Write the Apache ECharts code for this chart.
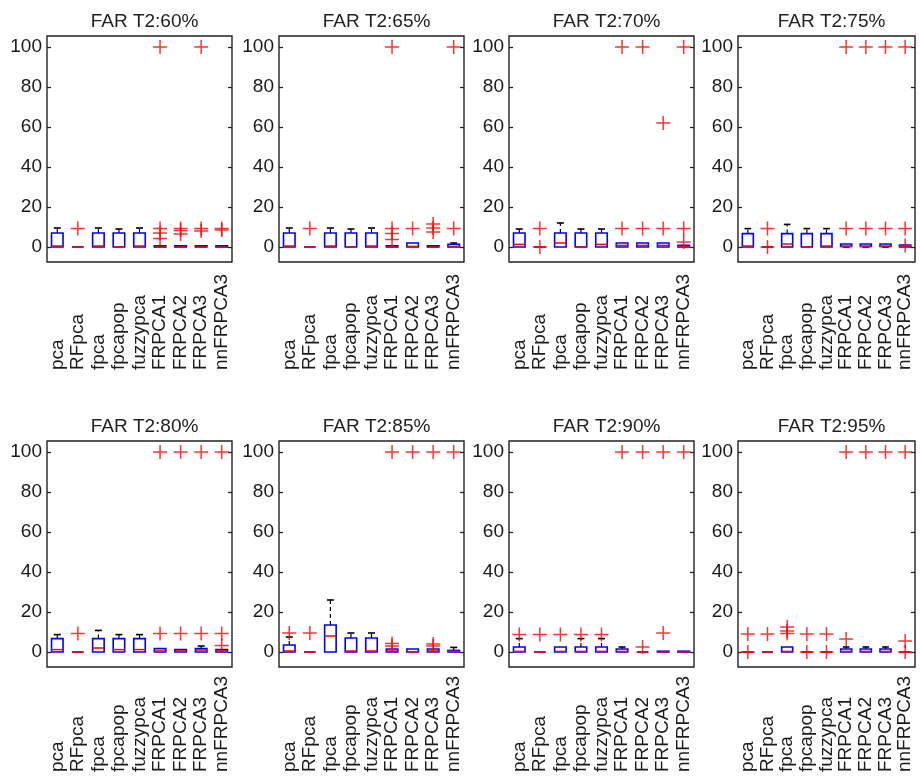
<!DOCTYPE html>
<html>
<head>
<meta charset="utf-8">
<script src="https://cdn.jsdelivr.net/npm/echarts@6/dist/echarts.min.js"></script>
<style>html,body{margin:0;padding:0;background:#fff}#c{width:920px;height:783px}</style>
</head>
<body>
<div id="c"></div>
<script>
const categories = ['pca','RFpca','fpca','fpcapop','fuzzypca','FRPCA1','FRPCA2','FRPCA3','nnFRPCA3'];
const panelTitles = ['FAR T2:60%','FAR T2:65%','FAR T2:70%','FAR T2:75%','FAR T2:80%','FAR T2:85%','FAR T2:90%','FAR T2:95%'];
const yTicks = [0,20,40,60,80,100];

// box stats: [lowWhisker, Q1, median, Q3, highWhisker]
const box60 = [[0,0,0.5,7,9.5],[0,0,0,0,0],[0,0,0.5,7,9.5],[0,0,0,7,9],[0,0,0.5,7,9.5],[0,0,0,0.6,0.6],[0,0,0,0.6,0.6],[0,0,0,0.6,0.6],[0,0,0,0.6,0.6]];
const out60 = [[],[9.2],[],[],[],[100,9.3,7,4.2],[9.2,8.2,6.5],[100,9.2,8],[9.2,8.5]];
const box65 = [[0,0,0.5,7,9.5],[0,0,0,0,0],[0,0,0.5,7,9.5],[0,0,0,7,9],[0,0,0.5,7,9.5],[0,0,0,0.6,0.6],[0,0,0.3,2,2],[0,0,0,0.6,0.6],[0,0,0,1.3,2]];
const out65 = [[],[9.2],[],[],[],[100,9.3,6.7,3.8],[9.2],[11.5,9.5,7.5],[100,9.2]];
const box70 = [[0,0,1.3,7,9],[0,0,0,0,0],[0,0,2,7,12],[0,0,0,7,9],[0,0,1.3,7,9],[0,0,0.8,2,2],[0,0,0.8,2,2],[0,0,0.8,2,2],[0,0,0.3,0.8,0.8]];
const out70 = [[],[9.2,0],[],[],[],[100,9.2],[100,9.2],[62,9.2],[100,9.2,2.5]];
const box75 = [[0,0,0.5,6.7,9.2],[0,0,0,0,0],[0,0,1.5,6.7,11.3],[0,0,0,6.7,9.2],[0,0,0.5,6.7,9.2],[0,0.3,0.3,1.5,1.5],[0,0.3,0.3,1.5,1.5],[0,0.3,0.3,1.5,1.5],[0,0,0.5,1,1]];
const out75 = [[],[9.2,0],[],[],[],[100,9.2],[100,9.2],[100,9.2],[100,9.2,0.8]];
const box80 = [[0,0,1.2,6.7,8.7],[0,0,0,0,0],[0,0,2,6.7,10.8],[0,0,1.2,6.7,8.7],[0,0,1.2,6.7,8.7],[0,0,0.5,1.7,1.7],[0,0,0.5,1.2,1.2],[0,0,1,1.7,3],[0,0,0.5,1.2,1.2]];
const out80 = [[],[9.2],[],[],[],[100,9.2],[100,9.2],[100,9.2],[100,9.2,3.3]];
const box85 = [[0,0,0.5,3.5,7.5],[0,0,0,0,0],[0,0,8,13.5,26],[0,0,0.5,7,9.5],[0,0,0.5,7,9.5],[0,0,0.5,1.5,1.5],[0,0,0,1.5,1.5],[0,0,0.5,1.5,1.5],[0,0,0.3,0.8,2.3]];
const out85 = [[9.5],[9.5],[],[],[],[100,4.3,3],[100],[100,4,3],[100]];
const box90 = [[0,0,0.3,2.5,6.7],[0,0,0,0,0],[0,0,0.3,2.5,2.5],[0,0,0.3,2.5,6.7],[0,0,0.3,2.5,6.7],[0,0,0.3,1.5,2.5],[0,0,0,0,0],[0,0,0,0.4,0.4],[0,0,0,0.4,0.4]];
const out90 = [[8.7],[8.7],[8.7],[8.7],[8.7],[100],[100,2.5],[100,9.5],[100]];
const box95 = [[0,0,0,0,0],[0,0,0,0,0],[0,0,0.3,2.5,2.5],[0,0,0,0,0],[0,0,0,0,0],[0,0,0.3,1.5,2.5],[0,0,0.3,1.5,2.5],[0,0,0.3,1.5,2.5],[0,0,0,0,0]];
const out95 = [[9,0],[9],[12.5,10.5,9.2],[9,0],[9,0],[100,6.5],[100],[100],[100,5.5,0]];

const boxes = [box60,box65,box70,box75,box80,box85,box90,box95];
const outs = [out60,out65,out70,out75,out80,out85,out90,out95];

const FONT = '"Liberation Sans", Arial, sans-serif';
const lefts = [47,279,509,738];
const widths = [185,185,185,177];
const tops = [36,441];
const labelMargins = [108,105];
const H = 226;

function renderBox(params, api) {
  const k = api.value(0);
  const lo = api.value(1), q1 = api.value(2), md = api.value(3), q3 = api.value(4), hi = api.value(5);
  const band = api.size([1,0])[0];
  const bw = band*0.56, cw = band*0.34;
  const pQ1 = api.coord([k,q1]), pQ3 = api.coord([k,q3]), pMd = api.coord([k,md]);
  const pHi = api.coord([k,hi]), pLo = api.coord([k,lo]);
  const cx = pQ1[0];
  const ch = [];
  const blk = {stroke:'#000', lineWidth:1.2, lineDash:[4,3]};
  if (hi > q3) {
    ch.push({type:'line', shape:{x1:cx,y1:pQ3[1],x2:cx,y2:pHi[1]}, style:blk});
    ch.push({type:'line', shape:{x1:cx-cw/2,y1:pHi[1],x2:cx+cw/2,y2:pHi[1]}, style:{stroke:'#000',lineWidth:1.6}});
  }
  if (lo < q1) {
    ch.push({type:'line', shape:{x1:cx,y1:pQ1[1],x2:cx,y2:pLo[1]}, style:blk});
    ch.push({type:'line', shape:{x1:cx-cw/2,y1:pLo[1],x2:cx+cw/2,y2:pLo[1]}, style:{stroke:'#000',lineWidth:1.6}});
  }
  ch.push({type:'polygon', shape:{points:[[cx-bw/2,pQ1[1]],[cx+bw/2,pQ1[1]],[cx+bw/2,pQ3[1]],[cx-bw/2,pQ3[1]]]},
    style:{stroke:'#0000ff', fill:'none', lineWidth:1.6}});
  ch.push({type:'line', shape:{x1:cx-bw/2,y1:pMd[1],x2:cx+bw/2,y2:pMd[1]}, style:{stroke:'#ff0000', lineWidth:1.5}});
  return {type:'group', children:ch};
}

const option = {animation:false, backgroundColor:'#fff', title:[], grid:[], xAxis:[], yAxis:[], series:[]};
for (let i = 0; i < 8; i++) {
  const row = Math.floor(i/4), col = i%4;
  const left = lefts[col], width = widths[col], top = tops[row];
  option.grid.push({left:left, top:top, width:width, height:H, show:true, borderColor:'#222', borderWidth:1.4, backgroundColor:'rgba(0,0,0,0)'});
  option.title.push({text:panelTitles[i], left:left+width/2, top:top-29, textAlign:'center',
    textStyle:{fontSize:19, fontWeight:'normal', color:'#222', fontFamily:FONT}});
  option.xAxis.push({type:'category', gridIndex:i, data:categories, axisLine:{show:false}, axisTick:{show:false},
    splitLine:{show:false},
    axisLabel:{interval:0, rotate:90, align:'left', verticalAlign:'middle', margin:labelMargins[row], fontSize:19, color:'#1a1a1a', fontFamily:FONT}});
  const yBase = {type:'value', gridIndex:i, min:-7.5, max:105.5, axisLine:{show:false}, splitLine:{show:false},
    axisTick:{show:true, inside:true, length:4, customValues:yTicks, lineStyle:{color:'#222', width:1.3}}};
  option.yAxis.push(Object.assign({}, yBase, {position:'left',
    axisLabel:{customValues:yTicks, margin:5, fontSize:19, color:'#1a1a1a', fontFamily:FONT}}));
  option.yAxis.push(Object.assign({}, yBase, {position:'right', axisLabel:{show:false}}));
  option.series.push({type:'custom', xAxisIndex:i, yAxisIndex:2*i, renderItem:renderBox,
    encode:{x:0, y:[1,2,3,4,5]}, data:boxes[i].map((b,k)=>[k].concat(b)), z:2});
  const pts = [];
  outs[i].forEach((vals,k)=>vals.forEach(v=>pts.push([k,v])));
  option.series.push({type:'scatter', xAxisIndex:i, yAxisIndex:2*i, data:pts, symbol:'path://M5,0L5,10M0,5L10,5',
    symbolSize:14, itemStyle:{color:'rgba(0,0,0,0)', borderColor:'#ff0000', borderWidth:1.5}, z:3});
}
const chart = echarts.init(document.getElementById('c'));
chart.setOption(option);
</script>
</body>
</html>
